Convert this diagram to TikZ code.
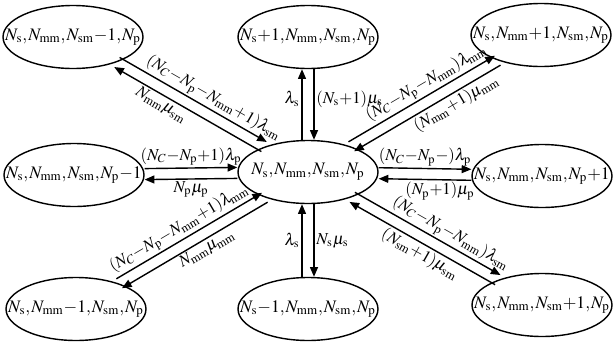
\documentclass[tikz,border=0pt]{standalone}
\usepackage{mathptmx}
\usetikzlibrary{arrows.meta,shapes.geometric}
\newcommand{\Ns}{N_{\mathrm{s}}}
\newcommand{\Nmm}{N_{\mathrm{mm}}}
\newcommand{\Nsm}{N_{\mathrm{sm}}}
\newcommand{\Np}{N_{\mathrm{p}}}
\newcommand{\NC}{N_{C}}
\begin{document}
\begin{tikzpicture}[x=0.02cm,y=-0.02cm,
  state/.style={draw,ellipse,line width=0.8pt,minimum width=2.8cm,minimum height=1.26cm,inner sep=0pt,
    execute at begin node={\hbox to 0pt\bgroup\hss},execute at end node={\hss\egroup}},
  fwd/.style={line width=0.8pt,-{Triangle[length=5.5pt,width=4.5pt]}},
  bwd/.style={line width=0.8pt,{Triangle[length=5.5pt,width=4.5pt]}-},
  lab/.style={inner sep=1pt,font=\fontsize{9.5}{11}\selectfont}]
\medmuskip=0mu \thinmuskip=1mu
\useasboundingbox (0,0) rectangle (613,342);
\node[state] (C) at (308,172) {$\Ns,\Nmm,\Nsm,\Np$};
\node[state] (TL) at (73,37) {$\Ns,\Nmm,\Nsm-1,\Np$};
\node[state] (T) at (308,37) {$\Ns+1,\Nmm,\Nsm,\Np$};
\node[state] (TR) at (541,35) {$\Ns,\Nmm+1,\Nsm,\Np$};
\node[state] (L) at (74,175) {$\Ns,\Nmm,\Nsm,\Np-1$};
\node[state] (R) at (542,176) {$\Ns,\Nmm,\Nsm,\Np+1$};
\node[state] (BL) at (76,309) {$\Ns,\Nmm-1,\Nsm,\Np$};
\node[state] (B) at (308,309) {$\Ns-1,\Nmm,\Nsm,\Np$};
\node[state] (BR) at (542,305) {$\Ns,\Nmm,\Nsm+1,\Np$};
\draw[fwd,transform canvas={shift={(2.7,-4.8)}}] (TL) -- node[lab,above,sloped,pos=0.6] {$(\NC-\Np-\Nmm+1)\lambda_{\mathrm{sm}}$} (C);
\draw[bwd,transform canvas={shift={(-2.7,4.8)}}] (TL) -- node[lab,below,sloped,pos=0.35] {$\Nmm\mu_{\mathrm{sm}}$} (C);
\draw[bwd,transform canvas={shift={(-6,0)}}] (T) -- node[lab,left,pos=0.42] {$\lambda_{\mathrm{s}}$} (C);
\draw[fwd,transform canvas={shift={(6,0)}}] (T) -- node[lab,right,pos=0.42] {$(\Ns+1)\mu_{\mathrm{s}}$} (C);
\draw[fwd,transform canvas={shift={(-2.8,-4.7)}}] (C) -- node[lab,above,sloped,pos=0.57] {$(\NC-\Np-\Nmm)\lambda_{\mathrm{mm}}$} (TR);
\draw[bwd,transform canvas={shift={(2.8,4.7)}}] (C) -- node[lab,below,sloped,pos=0.66] {$(\Nmm+1)\mu_{\mathrm{mm}}$} (TR);
\draw[fwd,transform canvas={shift={(0,-5.5)}}] (L) -- node[lab,above] {$(\NC-\Np+1)\lambda_{\mathrm{p}}$} (C);
\draw[bwd,transform canvas={shift={(0,5.5)}}] (L) -- node[lab,below] {$\Np\mu_{\mathrm{p}}$} (C);
\draw[fwd,transform canvas={shift={(0,-5.5)}}] (C) -- node[lab,above] {$(\NC-\Np-)\lambda_{\mathrm{p}}$} (R);
\draw[bwd,transform canvas={shift={(0,5.5)}}] (C) -- node[lab,below,pos=0.66] {$(\Np+1)\mu_{\mathrm{p}}$} (R);
\draw[fwd,transform canvas={shift={(-2.8,-4.7)}}] (BL) -- node[lab,above,sloped,pos=0.47] {$(\NC-\Np-\Nmm+1)\lambda_{\mathrm{mm}}$} (C);
\draw[bwd,transform canvas={shift={(2.8,4.7)}}] (BL) -- node[lab,below,sloped,pos=0.55] {$\Nmm\mu_{\mathrm{mm}}$} (C);
\draw[bwd,transform canvas={shift={(-6,0)}}] (C) -- node[lab,left] {$\lambda_{\mathrm{s}}$} (B);
\draw[fwd,transform canvas={shift={(6,0)}}] (C) -- node[lab,right] {$\Ns\mu_{\mathrm{s}}$} (B);
\draw[fwd,transform canvas={shift={(2.7,-4.8)}}] (C) -- node[lab,above,sloped,pos=0.62] {$(\NC-\Np-\Nmm)\lambda_{\mathrm{sm}}$} (BR);
\draw[bwd,transform canvas={shift={(-2.7,4.8)}}] (C) -- node[lab,below,sloped,pos=0.52] {$(\Nsm+1)\mu_{\mathrm{sm}}$} (BR);
\end{tikzpicture}
\end{document}
